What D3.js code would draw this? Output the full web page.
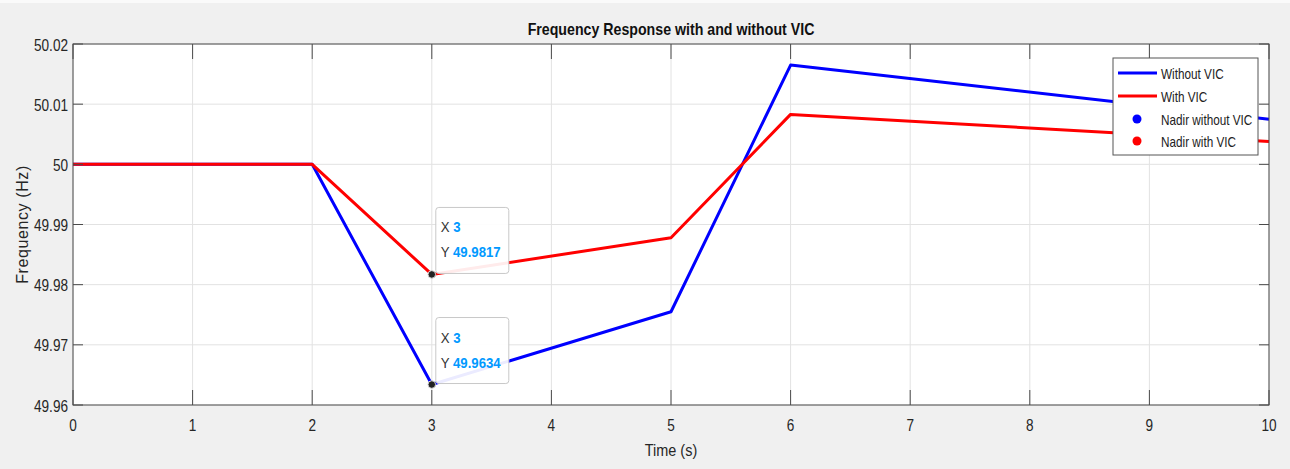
<!DOCTYPE html>
<html>
<head>
<meta charset="utf-8">
<script src="https://cdn.jsdelivr.net/npm/d3@7"></script>
<style>
html,body{margin:0;padding:0;background:#f0f0f0;}
svg{display:block;}
text{font-family:"Liberation Sans",Arial,sans-serif;}
</style>
</head>
<body>
<svg id="chart" width="1290" height="469"></svg>
<script>
// ---- data ----
const time = [0, 2, 3, 5, 6, 10];
const freqWithoutVIC = [50, 50, 49.9634, 49.9755, 50.0165, 50.0075];
const freqWithVIC = [50, 50, 49.9817, 49.9878, 50.0083, 50.0038];
const xTickValues = [0, 1, 2, 3, 4, 5, 6, 7, 8, 9, 10];
const yTickValues = [49.96, 49.97, 49.98, 49.99, 50, 50.01, 50.02];
const yTickLabels = ["49.96", "49.97", "49.98", "49.99", "50", "50.01", "50.02"];
const nadirX = [3, 3];
const nadirY = [49.9634, 49.9817];
const nadirLabels = ["49.9634", "49.9817"];
const legendLabels = ["Without VIC", "With VIC", "Nadir without VIC", "Nadir with VIC"];
const titleText = "Frequency Response with and without VIC";

// ---- layout ----
const W = 1290, H = 469;
const m = {left: 73, right: 1269, top: 44, bottom: 405};
const svg = d3.select("#chart");
const x = d3.scaleLinear().domain([0, 10]).range([m.left, m.right]);
const y = d3.scaleLinear().domain([49.96, 50.02]).range([m.bottom, m.top]);
const SX = 0.85;

function ctext(g, px, py, str, anchor, size, sx, weight, fill) {
  return g.append("text")
    .attr("transform", `translate(${px},${py}) scale(${sx},1)`)
    .attr("text-anchor", anchor)
    .attr("font-size", size)
    .attr("font-weight", weight || "normal")
    .attr("fill", fill || "#262626")
    .text(str);
}

svg.append("rect").attr("width", W).attr("height", H).attr("fill", "#f0f0f0");
svg.append("rect").attr("width", W).attr("height", 3).attr("fill", "#fafafa");

// plot background
svg.append("rect").attr("x", m.left).attr("y", m.top)
  .attr("width", m.right - m.left).attr("height", m.bottom - m.top).attr("fill", "#ffffff");

// grid
const grid = svg.append("g");
grid.selectAll(".gx").data(xTickValues).join("line")
  .attr("x1", d => x(d)).attr("x2", d => x(d)).attr("y1", m.top).attr("y2", m.bottom)
  .attr("stroke", "#e2e2e2").attr("stroke-width", 1);
grid.selectAll(".gy").data(yTickValues).join("line")
  .attr("y1", d => y(d)).attr("y2", d => y(d)).attr("x1", m.left).attr("x2", m.right)
  .attr("stroke", "#e2e2e2").attr("stroke-width", 1);

// lines
const line = d3.line().x(d => x(d[0])).y(d => y(d[1]));
svg.append("path").datum(time.map((t, i) => [t, freqWithoutVIC[i]]))
  .attr("d", line).attr("fill", "none").attr("stroke", "#0000ff").attr("stroke-width", 3)
  .attr("stroke-linejoin", "round");
svg.append("path").datum(time.map((t, i) => [t, freqWithVIC[i]]))
  .attr("d", line).attr("fill", "none").attr("stroke", "#ff0000").attr("stroke-width", 3)
  .attr("stroke-linejoin", "round");

// axes box + inner ticks
const ax = svg.append("g");
const axColor = "#4a4a4a";
ax.append("rect").attr("x", m.left).attr("y", m.top)
  .attr("width", m.right - m.left).attr("height", m.bottom - m.top)
  .attr("fill", "none").attr("stroke", axColor).attr("stroke-width", 1);
const xtl = 15, ytl = 10;
xTickValues.forEach(v => {
  ax.append("line").attr("x1", x(v)).attr("x2", x(v)).attr("y1", m.bottom).attr("y2", m.bottom - xtl)
    .attr("stroke", axColor);
  ax.append("line").attr("x1", x(v)).attr("x2", x(v)).attr("y1", m.top).attr("y2", m.top + xtl)
    .attr("stroke", axColor);
  ctext(ax, x(v), 431, String(v), "middle", 16, SX);
});
yTickValues.forEach((v, i) => {
  ax.append("line").attr("x1", m.left).attr("x2", m.left + ytl).attr("y1", y(v)).attr("y2", y(v))
    .attr("stroke", axColor);
  ax.append("line").attr("x1", m.right).attr("x2", m.right - ytl).attr("y1", y(v)).attr("y2", y(v))
    .attr("stroke", axColor);
  ctext(ax, 68, y(v) + 6.5, yTickLabels[i], "end", 16, SX);
});

// title and labels
ctext(svg, (m.left + m.right) / 2, 35, titleText, "middle", 16.5, 0.86, "bold", "#111");
ctext(svg, (m.left + m.right) / 2, 456, "Time (s)", "middle", 17, 0.85);
svg.append("text")
  .attr("transform", `translate(28,${(m.top + m.bottom) / 2}) rotate(-90)`)
  .attr("text-anchor", "middle").attr("font-size", 16).attr("fill", "#262626")
  .attr("letter-spacing", 0.6)
  .text("Frequency (Hz)");

// legend
const lg = svg.append("g");
lg.append("rect").attr("x", 1113).attr("y", 58).attr("width", 145).attr("height", 97)
  .attr("fill", "#ffffff").attr("stroke", "#555").attr("stroke-width", 1);
const legColors = ["#0000ff", "#ff0000", "#0000ff", "#ff0000"];
const legY = [73, 96, 119, 141];
legendLabels.forEach((lab, i) => {
  if (i < 2) {
    lg.append("line").attr("x1", 1118).attr("x2", 1157).attr("y1", legY[i]).attr("y2", legY[i])
      .attr("stroke", legColors[i]).attr("stroke-width", 3);
  } else {
    lg.append("circle").attr("cx", 1137).attr("cy", legY[i]).attr("r", 4.5).attr("fill", legColors[i]);
  }
  ctext(lg, 1161, legY[i] + 6, lab, "start", 14, 0.84, "normal", "#222");
});

// data tips
const tips = svg.append("g");
nadirX.forEach((nx, i) => {
  const px = x(nx), py = y(nadirY[i]);
  const bx = px + 4, by = py - 67;
  tips.append("rect").attr("x", bx).attr("y", by).attr("width", 73).attr("height", 66)
    .attr("rx", 3).attr("fill", "#ffffff").attr("fill-opacity", 0.92)
    .attr("stroke", "#c8c8c8").attr("stroke-width", 1);
  const t1 = tips.append("text")
    .attr("transform", `translate(${bx + 5},${by + 25}) scale(0.88,1)`)
    .attr("font-size", 15);
  t1.append("tspan").attr("fill", "#333").text("X ");
  t1.append("tspan").attr("fill", "#0099ff").attr("font-weight", "bold").text(String(nx));
  const t2 = tips.append("text")
    .attr("transform", `translate(${bx + 5},${by + 50}) scale(0.88,1)`)
    .attr("font-size", 15);
  t2.append("tspan").attr("fill", "#333").text("Y ");
  t2.append("tspan").attr("fill", "#0099ff").attr("font-weight", "bold").text(nadirLabels[i]);
  tips.append("circle").attr("cx", px).attr("cy", py).attr("r", 3.8)
    .attr("fill", "#222").attr("stroke", "#d8d8d8").attr("stroke-width", 1);
});
</script>
</body>
</html>
